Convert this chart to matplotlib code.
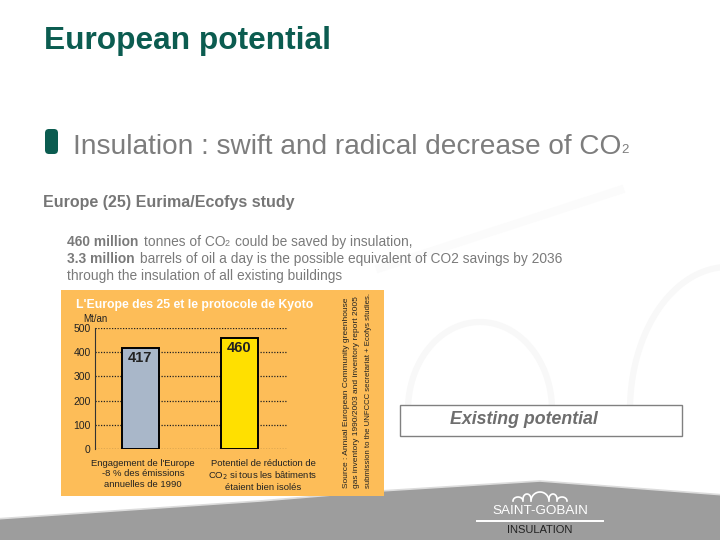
import matplotlib
matplotlib.use('Agg')
import matplotlib.pyplot as plt
import numpy as np
from matplotlib.patches import Rectangle, Polygon, FancyBboxPatch

plt.rcParams['font.family'] = ['Liberation Sans', 'DejaVu Sans']

categories = ["Engagement de l'Europe\n-8 % des émissions\nannuelles de 1990",
              "Potentiel de réduction de\nCO$_2$ si tous les bâtiments\nétaient bien isolés"]
values = [417, 460]
value_labels = ['417', '460']
bar_colors = ['#a9b7c9', '#ffe000']
yticks = [0, 100, 200, 300, 400, 500]
chart_title = "L'Europe des 25 et le protocole de Kyoto"
unit_label = 'Mt/an'
source_lines = ["Source : Annual European Community greenhouse",
                "gas inventory 1990/2003 and inventory report 2005",
                "submission to the UNFCCC secretariat + Ecofys studies."]

W, H = 720, 540
fig = plt.figure(figsize=(7.2, 5.4), dpi=100, facecolor='white')

# pixel canvas
bg = fig.add_axes([0, 0, 1, 1])
bg.set_xlim(0, W); bg.set_ylim(H, 0); bg.axis('off')

# faint background arches
t = np.linspace(np.pi, 2 * np.pi, 80)
bg.plot(480 + 72 * np.cos(t), 410 + 88 * np.sin(t), color='#f8f8f8', lw=4.5, zorder=0)
bg.plot(728 + 98 * np.cos(t), 410 + 143 * np.sin(t), color='#f8f8f8', lw=4.5, zorder=0)
bg.plot([380, 620], [268, 190], color='#fbfbfb', lw=6, zorder=0)

# footer band
bg.add_patch(Polygon([(-5, 519), (260, 501), (380, 491), (540, 481), (725, 495), (725, 545), (-5, 545)],
                     closed=True, fc='#9d9d9d', ec='#dcdcdc', lw=1.2, zorder=1))

# headings
bg.text(44, 41, 'European potential', fontsize=22.8, fontweight='bold', color='#0b5c50',
        va='center', ha='left')
bg.add_patch(FancyBboxPatch((45, 129), 13, 25, boxstyle='round,pad=0,rounding_size=4',
                            fc='#0b5c50', ec='none'))
bg.text(73, 147, 'Insulation : swift and radical decrease of CO', fontsize=20.2,
        color='#7d7d7d', va='center', ha='left')
bg.text(621, 150, '2', fontsize=9.5, color='#7d7d7d', va='center', ha='left')
bg.text(43, 202, 'Europe (25) Eurima/Ecofys study', fontsize=11.5, fontweight='bold',
        color='#767676', va='center', ha='left')

tc = '#7a7a7a'
fs = 9.95
bg.text(67, 242, '460 million', fontsize=fs, fontweight='bold', color=tc, va='center')
bg.text(144, 242, 'tonnes of CO', fontsize=fs, color=tc, va='center')
bg.text(225, 243, '2', fontsize=6.5, color=tc, va='center')
bg.text(235, 242, 'could be saved by insulation,', fontsize=fs, color=tc, va='center')
bg.text(67, 259, '3.3 million', fontsize=fs, fontweight='bold', color=tc, va='center')
bg.text(140, 259, 'barrels of oil a day is the possible equivalent of CO2 savings by 2036',
        fontsize=fs, color=tc, va='center')
bg.text(67, 276, 'through the insulation of all existing buildings', fontsize=fs, color=tc,
        va='center')

# orange panel
bg.add_patch(Rectangle((61, 290), 323, 206, fc='#fdbd58', ec='none', zorder=2))
bg.text(76, 305, chart_title, fontsize=8.8, fontweight='bold', color='white', va='center',
        zorder=3)
bg.text(83, 319, unit_label, fontsize=7, color='#222222', va='center', zorder=3)
for x, s, size in zip([346, 357, 368], source_lines, [6.0, 6.0, 5.6]):
    bg.text(x, 488, s, rotation=90, fontsize=size, color='#222222',
            ha='center', va='bottom', zorder=3)

# existing potential box
bg.add_patch(Rectangle((399.5, 404.5), 282, 31, fc='white', ec='#808080', lw=1, zorder=2))
bg.text(523.5, 420, 'Existing potential', fontsize=12.8, fontweight='bold', fontstyle='italic',
        color='#6e6e6e', ha='center', va='center', zorder=3)

# logo
bg.plot([477, 603], [521, 521], color='white', lw=1.4, zorder=3)
ta = np.linspace(0, np.pi, 30)
for cx, r, top in [(518, 5, 4), (527, 4, 5), (540, 9, 9), (553, 4, 5), (562, 5, 4)]:
    bg.plot(cx + r * np.cos(ta), 501 - top * np.sin(ta) - (2 if r == 4 else 0), color='white', lw=1.2, zorder=3)
bg.text(540, 511, 'SAINT-GOBAIN', fontsize=9.7, color='white', ha='center', va='center', zorder=3)
bg.text(540, 530, 'INSULATION', fontsize=8, color='#222222', ha='center', va='center', zorder=3)

# bar chart, axes placed on the panel
ax_l, ax_r, ax_t, ax_b = 95, 287, 328, 449
ax = fig.add_axes([ax_l / W, 1 - ax_b / H, (ax_r - ax_l) / W, (ax_b - ax_t) / H])
ax.patch.set_alpha(0)
ax.set_zorder(5)
ax.set_xlim(ax_l, ax_r)
ax.set_ylim(0, 500)
ax.set_yticks(yticks)
ax.tick_params(axis='y', labelsize=7.5, length=0, pad=3, labelcolor='#222222')
ax.set_xticks([])
ax.yaxis.grid(True, linestyle=(0, (1, 1.2)), color='#222222', lw=0.9)
ax.set_axisbelow(True)
for s in ['top', 'right', 'bottom']:
    ax.spines[s].set_visible(False)
ax.spines['left'].set_color('#333333')
ax.spines['left'].set_linewidth(0.8)

centers = [140, 239]
ax.bar(centers, values, width=37, color=bar_colors, edgecolor='black', linewidth=1.4, zorder=3)
for c, v, s in zip(centers, values, value_labels):
    ax.text(c, v - 12, s, ha='center', va='top', fontsize=10.5, fontweight='bold',
            color='#222222', zorder=4)
for c, s in zip([143, 263], categories):
    ax.annotate(s, (c, 0), xytext=(0, -7), textcoords='offset points', ha='center', va='top',
                fontsize=6.8, color='#222222', linespacing=1.2, annotation_clip=False)

fig.savefig('out.png', dpi=100)
